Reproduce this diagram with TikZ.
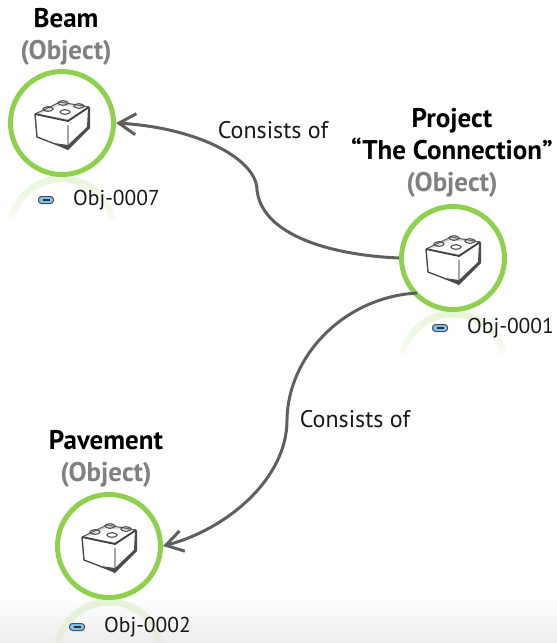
\documentclass[tikz,border=0pt]{standalone}
\usepackage{fontspec}
\setmainfont{PT Sans}
\usetikzlibrary{positioning, arrows.meta, fadings}

\definecolor{ringgreen}{HTML}{8FD14F}
\definecolor{linegray}{HTML}{5F5F5F}
\definecolor{titlegray}{HTML}{808080}
\definecolor{pillblue}{HTML}{7CC4F0}

\begin{document}
\begin{tikzpicture}[x=1pt, y=-1pt,
        objnode/.style = {
            circle,
            draw=ringgreen,
            line width=5pt,
            fill=white,
            minimum size=103pt,
            inner sep=0pt
        },
        title/.style = {
            font = \fontsize{27}{32}\selectfont\bfseries,
            align = center,
            inner sep=0pt
        },
        idtext/.style = {
            font = \fontsize{21.5}{25}\selectfont,
            text=black!90,
            inner sep=0pt
        },
        relation/.style = {
            font = \fontsize{24}{28}\selectfont,
            text=black!90,
            inner sep=0pt
        },
        link/.style = {
            draw=linegray,
            line width=3pt
        },
        linkhead/.style = {
            link,
            -{Straight Barb[length=17pt, width=21pt, line width=3pt]}
        },
        pill/.style = {
            rectangle,
            rounded corners=3pt,
            draw=black!70,
            line width=1pt,
            fill=pillblue,
            minimum width=15pt,
            minimum height=7pt,
            inner sep=0pt
        },
        brick/.pic = {
            \fill[black!15] (-27,-9) -- (-2,-21) -- (27,-16) -- (6,-2) -- cycle;
            \fill[white] (-24,-8) -- (-2,-18) -- (24,-15) -- (6,-4) -- cycle;
            \draw[black!65, line width=1pt] (-27,-9) -- (-2,-21) -- (27,-16);
            \draw[black!75, line width=1.8pt] (-27,-9) -- (6,-2) -- (27,-16);
            \draw[black!70, line width=1.4pt] (-27,-9) -- (-25,14) -- (6,26);
            \draw[black!35, line width=1.2pt] (6,2) -- (6,22);
            \fill[black!70] (6,27) -- (-8,20) -- (6,22) -- (25,4) -- (26,-15) -- (28,-16) -- (28,5) -- cycle;
            \foreach \sx/\sy in {-14/-14, 1/-20, 17/-17, 3/-11} {
                \draw[black!70, line width=1.1pt] (\sx,\sy) ellipse [x radius=5pt, y radius=2.3pt];
            }
        },
        glow/.pic = {
            \begin{scope}
                \clip (-54,52) rectangle (54,95);
                \draw[ringgreen, line width=7pt, opacity=0.22, path fading=south] (-52,108) arc [start angle=180, end angle=0, radius=52pt];
            \end{scope}
        }
    ]
    \useasboundingbox (0,0) rectangle (557,643);
    \shade[top color=white, bottom color=black!7] (0,595) rectangle (557,643);

    \path (62,123) pic {glow};
    \path (453,258) pic {glow};
    \path (109,546) pic {glow};

    \node (beam) [objnode] at (62,123) {};
    \node (project) [objnode] at (453,258) {};
    \node (pavement) [objnode] at (109,546) {};

    \path (beam) pic {brick};
    \path (project) pic {brick};
    \path (pavement) pic {brick};

    \node (beam_title) [title, above=3pt of beam.north, xshift=4pt] {Beam\hspace{8pt}\\\textcolor{titlegray}{(Object)}};
    \node (project_title) [title, above=6pt of project.north, xshift=-1pt] {Project\\“The Connection”\\\textcolor{titlegray}{(Object)}};
    \node (pavement_title) [title, above=4pt of pavement.north, xshift=-3pt] {Pavement\\\textcolor{titlegray}{(Object)}};

    \node (beam_pill) [pill] at (46,200) {};
    \node (beam_id) [idtext, right=19pt of beam_pill] {Obj-0007};
    \node (project_pill) [pill] at (440,328) {};
    \node (project_id) [idtext, right=19pt of project_pill] {Obj-0001};
    \node (pavement_pill) [pill] at (77,627) {};
    \node (pavement_id) [idtext, right=19pt of pavement_pill] {Obj-0002};
    \foreach \pillname in {beam_pill, project_pill, pavement_pill} {
        \draw[black!80, line width=1.3pt] (\pillname.center) ++(-3.5,0) -- ++(7,0);
    }

    \coordinate (upper_bend) at (257,190);
    \coordinate (lower_bend) at (287,420);
    \coordinate (lower_start) at (417,293);

    \draw[link] (project.west) .. controls (330,255) and (262,235) .. (upper_bend);
    \draw[linkhead] (upper_bend) .. controls (257,160) and (200,128) .. (beam.east);
    \draw[link] (lower_start) .. controls (345,297) and (288,355) .. (lower_bend);
    \draw[linkhead] (lower_bend) .. controls (287,480) and (225,530) .. (pavement.east);

    \node (upper_relation) [relation] at (273,130) {Consists of};
    \node (lower_relation) [relation] at (355,419) {Consists of};
\end{tikzpicture}
\end{document}
